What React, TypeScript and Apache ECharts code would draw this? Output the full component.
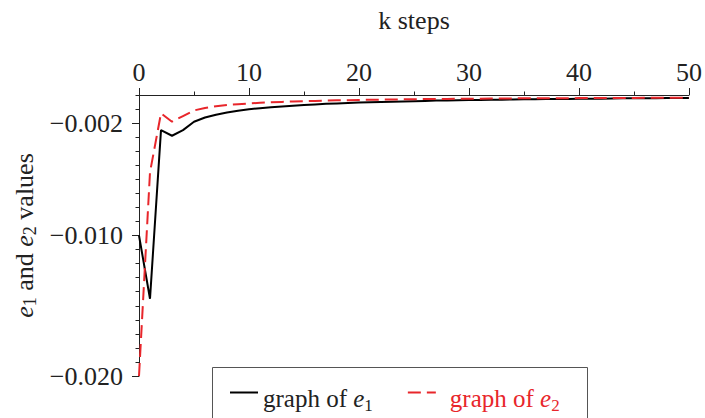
import React, { useEffect, useRef } from "react";
import * as echarts from "echarts";

const steps = [0, 1, 2, 3, 4, 5, 6, 7, 8, 9, 10, 11, 12, 13, 14, 15, 16, 17, 18, 19, 20, 21, 22, 23, 24, 25, 26, 27, 28, 29, 30, 31, 32, 33, 34, 35, 36, 37, 38, 39, 40, 41, 42, 43, 44, 45, 46, 47, 48, 49, 50];

const e1Values = [
  -0.0100, -0.0145, -0.0025, -0.0029, -0.0025, -0.0019, -0.0016, -0.0014, -0.00125, -0.00112,
  -0.00102, -0.00094, -0.00087, -0.00081, -0.00076, -0.00071, -0.00067, -0.00063, -0.0006, -0.00057,
  -0.00054, -0.00052, -0.0005, -0.00048, -0.00046, -0.00044, -0.00042, -0.0004, -0.00039, -0.00037,
  -0.00036, -0.00035, -0.00034, -0.00033, -0.00032, -0.00031, -0.0003, -0.00029, -0.00028, -0.00028,
  -0.00027, -0.00026, -0.00026, -0.00025, -0.00024, -0.00024, -0.00023, -0.00023, -0.00022, -0.00022,
  -0.00021,
];

const e2Values = [
  -0.0200, -0.0055, -0.0013, -0.0019, -0.0015, -0.0011, -0.00092, -0.0008, -0.00071, -0.00065,
  -0.0006, -0.00056, -0.00052, -0.00049, -0.00046, -0.00044, -0.00042, -0.0004, -0.00038, -0.00037,
  -0.00035, -0.00034, -0.00033, -0.00032, -0.00031, -0.0003, -0.00029, -0.00029, -0.00028, -0.00027,
  -0.00026, -0.00026, -0.00025, -0.00025, -0.00024, -0.00024, -0.00024, -0.00023, -0.00023, -0.00023,
  -0.00022, -0.00022, -0.00022, -0.00021, -0.00021, -0.00021, -0.0002, -0.0002, -0.0002, -0.0002,
  -0.0002,
];

const yLabelValues = [-0.02, -0.01, -0.002];

const FONT = "Liberation Serif";
const TEXT = "#222";
const RED = "#e8262b";

const nameRich = {
  n: { fontFamily: FONT, fontSize: 26, lineHeight: 30 },
  i: { fontFamily: FONT, fontSize: 26, fontStyle: "italic", lineHeight: 30 },
  s: { fontFamily: FONT, fontSize: 18, lineHeight: 14, verticalAlign: "bottom" },
};

const legendRich = {
  n: { fontFamily: FONT, fontSize: 25, lineHeight: 30 },
  i: { fontFamily: FONT, fontSize: 25, fontStyle: "italic", lineHeight: 30 },
  s: { fontFamily: FONT, fontSize: 17, lineHeight: 14, verticalAlign: "bottom" },
  sp2: { fontFamily: FONT, fontSize: 25, width: 9 },
};

export default function App() {
  const ref = useRef<HTMLDivElement>(null);
  useEffect(() => {
    if (!ref.current) return;
    const chart = echarts.init(ref.current, undefined, { renderer: "svg" });
    const fmtY = (v: number) => "\u2212" + Math.abs(v).toFixed(3);
    chart.setOption({
      animation: false,
      backgroundColor: "#fff",
      grid: { left: 139, right: 14, top: 95, bottom: 42 },
      xAxis: {
        type: "value",
        position: "top",
        min: 0,
        max: 50,
        interval: 10,
        name: "k steps",
        nameLocation: "middle",
        nameGap: 62,
        nameTextStyle: { fontFamily: FONT, fontSize: 26, color: TEXT },
        axisLine: { show: true, onZero: false, lineStyle: { color: TEXT, width: 1 } },
        axisTick: { show: true, inside: false, length: 7, lineStyle: { color: TEXT } },
        minorTick: { show: true, splitNumber: 2, length: 3.5, lineStyle: { color: TEXT } },
        axisLabel: { fontFamily: FONT, fontSize: 26, color: TEXT, margin: 10 },
        splitLine: { show: false },
      },
      yAxis: [
        {
          type: "value",
          min: -0.02,
          max: 0,
          interval: 0.001,
          name: "{i|e}{s|1}{n| and }{i|e}{s|2}{n| values}",
          nameLocation: "middle",
          nameGap: 100,
          nameRotate: 90,
          nameTextStyle: { fontFamily: FONT, fontSize: 26, color: TEXT, rich: nameRich },
          axisLine: { show: true, onZero: false, lineStyle: { color: TEXT, width: 1 } },
          axisTick: { show: true, inside: false, length: 3.5, lineStyle: { color: TEXT } },
          axisLabel: { show: false },
          splitLine: { show: false },
        },
        {
          type: "value",
          min: -0.02,
          max: 0,
          position: "left",
          axisLine: { show: false },
          axisTick: { show: true, inside: false, length: 7, customValues: yLabelValues, lineStyle: { color: TEXT } },
          axisLabel: {
            show: true,
            customValues: yLabelValues,
            formatter: fmtY,
            fontFamily: FONT,
            fontSize: 26,
            color: TEXT,
            margin: 16,
          },
          splitLine: { show: false },
        },
      ],
      legend: {
        left: 229,
        top: 386,
        padding: 0,
        itemWidth: 28,
        itemHeight: 14,
        itemGap: 34,
        itemStyle: { opacity: 0 },
        data: [
          { name: "e1", textStyle: { color: TEXT } },
          { name: "e2", textStyle: { color: RED } },
        ],
        formatter: (name: string) =>
          name === "e1"
            ? "{n|graph of }{i|e}{s|1}"
            : "{sp2| }{n|graph of }{i|e}{s|2}",
        textStyle: { fontFamily: FONT, fontSize: 25, padding: [12, 0, 0, 0], rich: legendRich },
      },
      graphic: [
        {
          type: "rect",
          z: 0,
          shape: { x: 212.5, y: 367.5, width: 375, height: 70 },
          style: { fill: "#fff", stroke: "#555", lineWidth: 1 },
        },
      ],
      series: [
        {
          name: "e1",
          type: "line",
          symbol: "none",
          showSymbol: false,
          yAxisIndex: 0,
          lineStyle: { color: "#000", width: 2 },
          itemStyle: { color: "#000" },
          data: steps.map((k, i) => [k, e1Values[i]]),
        },
        {
          name: "e2",
          type: "line",
          symbol: "none",
          showSymbol: false,
          yAxisIndex: 0,
          lineStyle: { color: RED, width: 2, type: [13, 6] },
          itemStyle: { color: RED },
          data: steps.map((k, i) => [k, e2Values[i]]),
        },
      ],
    });
    return () => chart.dispose();
  }, []);
  return (
    <div
      ref={ref}
      style={{ position: "absolute", left: 0, top: 0, width: 705, height: 418 }}
    />
  );
}
